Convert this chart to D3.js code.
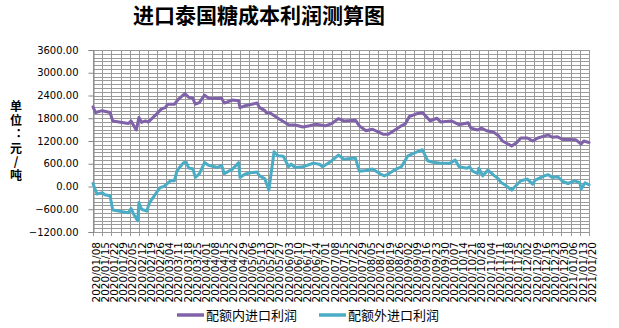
<!DOCTYPE html>
<html><head><meta charset="utf-8">
<script src="https://cdn.jsdelivr.net/npm/d3@7/dist/d3.min.js"></script>
<style>html,body{margin:0;padding:0;background:#fff;}svg{display:block;}</style>
</head><body>
<svg id="chart" width="619" height="328"></svg>
<script>
const title = "进口泰国糖成本利润测算图";
const yTitle = "单位：元/吨";
const seriesNames = ["配额内进口利润","配额外进口利润"];
const yTicks = [-1200,-600,0,600,1200,1800,2400,3000,3600];
const xTickLabels = ["2020/01/08","2020/01/15","2020/01/22","2020/01/29","2020/02/05","2020/02/12","2020/02/19","2020/02/26","2020/03/04","2020/03/11","2020/03/18","2020/03/25","2020/04/01","2020/04/08","2020/04/15","2020/04/22","2020/04/29","2020/05/06","2020/05/13","2020/05/20","2020/05/27","2020/06/03","2020/06/10","2020/06/17","2020/06/24","2020/07/01","2020/07/08","2020/07/15","2020/07/22","2020/07/29","2020/08/05","2020/08/12","2020/08/19","2020/08/26","2020/09/02","2020/09/09","2020/09/16","2020/09/23","2020/09/30","2020/10/07","2020/10/14","2020/10/21","2020/10/28","2020/11/04","2020/11/11","2020/11/18","2020/11/25","2020/12/02","2020/12/09","2020/12/16","2020/12/23","2020/12/30","2021/01/06","2021/01/13","2021/01/20"];

const inQuotaDates = ["2020/01/08","2020/01/10","2020/01/15","2020/01/21","2020/01/23","2020/02/04","2020/02/06","2020/02/10","2020/02/12","2020/02/14","2020/02/17","2020/02/19","2020/02/24","2020/02/29","2020/03/03","2020/03/05","2020/03/10","2020/03/13","2020/03/18","2020/03/21","2020/03/24","2020/03/26","2020/03/29","2020/04/02","2020/04/05","2020/04/12","2020/04/15","2020/04/17","2020/04/23","2020/04/28","2020/04/29","2020/05/03","2020/05/08","2020/05/12","2020/05/14","2020/05/18","2020/05/19","2020/05/22","2020/05/28","2020/06/05","2020/06/10","2020/06/16","2020/06/21","2020/06/26","2020/07/03","2020/07/08","2020/07/13","2020/07/17","2020/07/26","2020/07/29","2020/08/03","2020/08/08","2020/08/16","2020/08/20","2020/08/26","2020/08/30","2020/09/02","2020/09/05","2020/09/10","2020/09/15","2020/09/21","2020/09/26","2020/09/28","2020/09/29","2020/10/07","2020/10/13","2020/10/20","2020/10/22","2020/10/27","2020/10/30","2020/11/03","2020/11/08","2020/11/12","2020/11/15","2020/11/22","2020/11/26","2020/11/29","2020/12/04","2020/12/08","2020/12/12","2020/12/20","2020/12/23","2020/12/27","2020/12/31","2021/01/05","2021/01/10","2021/01/14","2021/01/16","2021/01/20"];
const inQuotaValues = [2100,1950,2000,1950,1730,1660,1730,1490,1820,1690,1730,1700,1860,2040,2080,2170,2170,2300,2450,2350,2330,2170,2210,2410,2330,2320,2330,2200,2280,2260,2080,2130,2170,2200,2080,2000,1950,1940,1800,1630,1620,1570,1600,1640,1600,1660,1790,1730,1750,1600,1470,1510,1380,1380,1510,1600,1650,1840,1910,1950,1730,1800,1740,1700,1730,1630,1680,1540,1490,1540,1470,1440,1340,1200,1070,1160,1280,1280,1200,1280,1360,1300,1310,1240,1240,1230,1120,1200,1160];

const outQuotaDates = ["2020/01/08","2020/01/11","2020/01/15","2020/01/17","2020/01/21","2020/01/23","2020/02/04","2020/02/06","2020/02/08","2020/02/11","2020/02/12","2020/02/14","2020/02/18","2020/02/20","2020/02/28","2020/03/02","2020/03/07","2020/03/10","2020/03/12","2020/03/17","2020/03/19","2020/03/21","2020/03/24","2020/03/26","2020/03/29","2020/04/02","2020/04/05","2020/04/12","2020/04/15","2020/04/17","2020/04/23","2020/04/28","2020/04/29","2020/05/03","2020/05/08","2020/05/12","2020/05/14","2020/05/18","2020/05/21","2020/05/25","2020/05/28","2020/06/01","2020/06/05","2020/06/07","2020/06/10","2020/06/16","2020/06/24","2020/06/29","2020/07/01","2020/07/08","2020/07/13","2020/07/17","2020/07/26","2020/07/29","2020/08/03","2020/08/08","2020/08/14","2020/08/17","2020/08/20","2020/08/26","2020/08/30","2020/09/04","2020/09/10","2020/09/15","2020/09/19","2020/09/23","2020/09/28","2020/10/06","2020/10/10","2020/10/13","2020/10/19","2020/10/21","2020/10/23","2020/10/27","2020/10/28","2020/10/31","2020/11/04","2020/11/09","2020/11/12","2020/11/14","2020/11/18","2020/11/22","2020/11/26","2020/11/29","2020/12/04","2020/12/08","2020/12/10","2020/12/17","2020/12/20","2020/12/23","2020/12/27","2020/12/31","2021/01/04","2021/01/09","2021/01/13","2021/01/14","2021/01/17","2021/01/20"];
const outQuotaValues = [80,-200,-160,-220,-245,-620,-690,-580,-730,-905,-420,-600,-650,-430,-30,0,150,150,414,630,640,485,470,240,330,630,560,500,560,340,450,630,240,330,370,380,280,200,-95,915,810,800,520,590,500,520,617,580,520,680,830,720,750,400,420,460,330,280,330,460,520,810,900,970,680,640,620,610,700,520,480,520,414,343,480,282,432,280,200,105,18,-95,45,150,195,63,170,282,310,240,260,132,79,150,100,-69,100,45];

const colors = ["#7f62a8","#4bacc6"];

const svg = d3.select("#chart");
const parse = d3.timeParse("%Y/%m/%d");
const plotLeft = 93, plotRight = 589, plotTop = 50, plotBottom = 232;
const x = d3.scaleTime().domain([parse(xTickLabels[0]), parse(xTickLabels[xTickLabels.length-1])]).range([plotLeft, plotRight]);
const y = d3.scaleLinear().domain([-1200, 3600]).range([plotBottom, plotTop]);

// horizontal gridlines every 100
const minor = d3.range(-1200, 3601, 100);
svg.append("g").selectAll("line").data(minor).join("line")
  .attr("x1", plotLeft).attr("x2", plotRight)
  .attr("y1", d => Math.round(y(d)) + 0.5).attr("y2", d => Math.round(y(d)) + 0.5)
  .attr("stroke", d => d === 0 ? "#7a7a7a" : "#9a9a9a").attr("stroke-width", 1);

// vertical gridlines weekly
svg.append("g").selectAll("line").data(xTickLabels).join("line")
  .attr("x1", d => Math.round(x(parse(d))) + 0.5).attr("x2", d => Math.round(x(parse(d))) + 0.5)
  .attr("y1", plotTop).attr("y2", plotBottom + 4)
  .attr("stroke", "#9a9a9a").attr("stroke-width", 1);

// y axis
const yAxis = d3.axisLeft(y).tickValues(yTicks).tickSize(5).tickPadding(10).tickFormat(d3.format(".2f"));
const gy = svg.append("g").attr("transform", `translate(${plotLeft + 0.5},0)`).call(yAxis);
gy.select(".domain").attr("stroke", "#868686");
gy.selectAll(".tick line").attr("stroke", "#868686");
gy.selectAll("text").attr("font-family", "DejaVu Sans").attr("font-size", 10).attr("fill", "#000");

// x axis labels at bottom
const xAxis = d3.axisBottom(x).tickValues(xTickLabels.map(parse)).tickSize(0).tickFormat(d3.timeFormat("%Y/%m/%d"));
const gx = svg.append("g").attr("transform", `translate(0,${plotBottom})`).call(xAxis);
gx.select(".domain").remove();
gx.selectAll("text")
  .attr("font-family", "DejaVu Sans").attr("font-size", 10.5).attr("fill", "#000")
  .attr("transform", "rotate(-90)")
  .attr("text-anchor", "end")
  .attr("x", -10).attr("y", 0).attr("dy", "0.35em")
  .attr("dx", 0);
gx.selectAll(".tick").attr("transform", function(){ 
  const t = d3.select(this).attr("transform"); 
  const m = /translate\(([-\d.]+),/.exec(t); 
  return `translate(${(+m[1]) + 2.5},0)`; });

// lines
const line = d3.line().x(d => x(d[0])).y(d => y(d[1]));
const series = [
  d3.zip(inQuotaDates.map(parse), inQuotaValues),
  d3.zip(outQuotaDates.map(parse), outQuotaValues)
];
svg.append("g").selectAll("path").data(series).join("path")
  .attr("d", line).attr("fill", "none")
  .attr("stroke", (d, i) => colors[i]).attr("stroke-width", 3)
  .attr("stroke-linejoin", "round").attr("stroke-linecap", "round");

// title
svg.append("text").attr("x", 259).attr("y", 23).attr("text-anchor", "middle")
  .attr("font-family", "Noto Sans CJK SC").attr("font-weight", "bold").attr("font-size", 21)
  .attr("fill", "#000").text(title);

// y title (vertical, upright characters)
svg.append("text").attr("x", 16).attr("y", 142).attr("text-anchor", "middle")
  .style("writing-mode", "vertical-rl").style("text-orientation", "upright")
  .attr("letter-spacing", 1.7)
  .attr("font-family", "Noto Sans CJK SC").attr("font-weight", "bold").attr("font-size", 12)
  .attr("fill", "#000").text(yTitle);

// legend
const legendX = [177, 319];
const lg = svg.append("g").selectAll("g").data(seriesNames).join("g")
  .attr("transform", (d, i) => `translate(${legendX[i]},315)`);
lg.append("line").attr("x1", 0).attr("x2", 27).attr("y1", 0).attr("y2", 0)
  .attr("stroke", (d, i) => colors[i]).attr("stroke-width", 3.5);
lg.append("text").attr("x", 29).attr("y", 0).attr("dy", "0.36em")
  .attr("font-family", "Noto Sans CJK SC").attr("font-size", 13).attr("fill", "#000").text(d => d);
</script>
</body></html>
